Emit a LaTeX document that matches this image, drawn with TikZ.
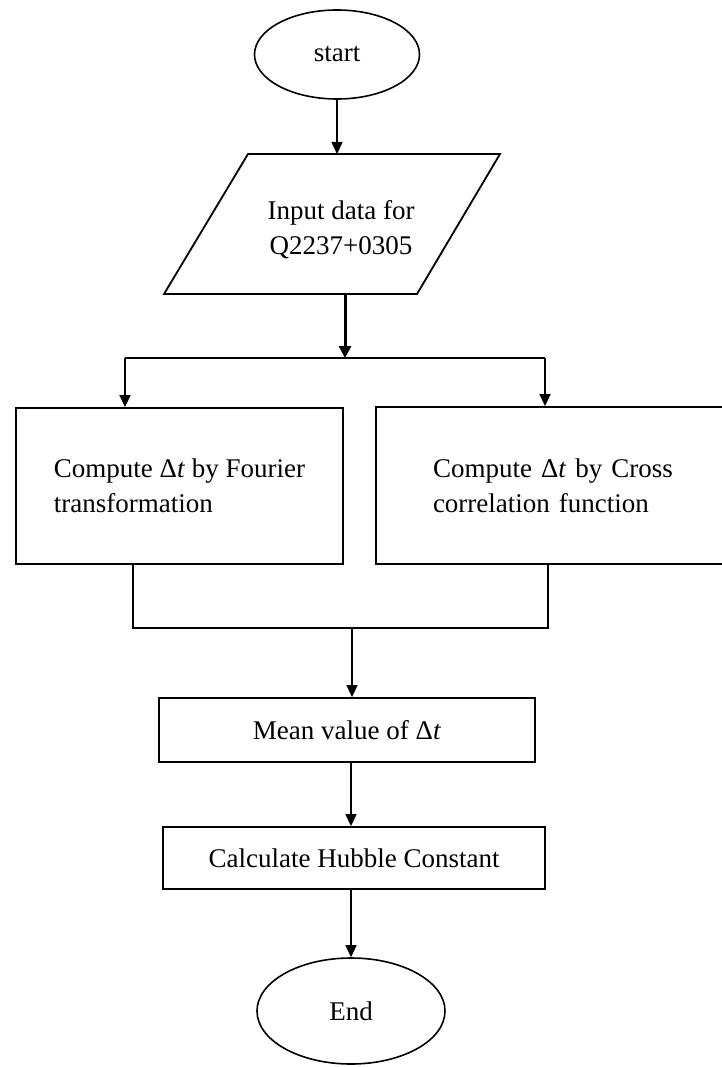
\documentclass[tikz,border=0pt]{standalone}
\usepackage{fontspec}
\setmainfont{Liberation Serif}
\usetikzlibrary{shapes.geometric,arrows.meta}
\begin{document}
\begin{tikzpicture}[x=1pt,y=-1pt,
  every node/.style={font=\fontsize{27}{35}\selectfont},
  term/.style={draw,ellipse,line width=1.6pt,inner sep=0pt},
  procbox/.style={draw,rectangle,line width=1.8pt,inner sep=0pt,align=left},
  conn/.style={line width=1.6pt,-{Triangle[length=12pt,width=11pt]}},
  thickconn/.style={line width=3pt,-{Triangle[length=12pt,width=12pt]}},
  plain/.style={line width=1.6pt}]
\useasboundingbox (0,0) rectangle (722,1067);
\fill[white] (0,0) rectangle (722,1067);
% start
\node[term,minimum width=165pt,minimum height=89pt] (start) at (337,54.5) {start};
% input parallelogram
\coordinate (pTL) at (248,154);
\coordinate (pTR) at (500,154);
\coordinate (pBR) at (417,294);
\coordinate (pBL) at (164,294);
\draw[line width=1.8pt,line join=miter] (pTL) -- (pTR) -- (pBR) -- (pBL) -- cycle;
\node[align=center,inner sep=0pt] (input) at (341,230) {Input data for\\Q2237+0305};
\coordinate (inTop) at (337,154);
\coordinate (inBot) at (345,294);
% branch
\coordinate (brMid) at (345,358);
\coordinate (brL) at (125,358);
\coordinate (brR) at (545,358);
% boxes
\node[procbox,minimum width=327pt,minimum height=156pt] (fourier) at (179.5,486)
  {Compute Δ\textit{t} by Fourier\\transformation};
\node[procbox,inner xsep=57pt,text width=286pt,minimum height=157pt] (cross) at (576,485.5)
  {Compute Δ\textit{t} by Cross\\correlation function};
% merge
\coordinate (mL) at (133,628);
\coordinate (mR) at (548,628);
\coordinate (mMid) at (352,628);
\node[procbox,align=center,minimum width=376pt,minimum height=64pt] (mean) at (347,730)
  {Mean value of Δ\textit{t}};
\node[procbox,align=center,minimum width=382pt,minimum height=62pt] (calc) at (354,858)
  {Calculate Hubble Constant};
\node[term,minimum width=188pt,minimum height=106pt] (end) at (351,1011) {End};
% connectors
\draw[conn] (start.south) -- (inTop);
\draw[thickconn] (inBot) -- (brMid);
\draw[plain] (brL) -- (brR);
\draw[conn] (brL) -- (brL |- fourier.north);
\draw[conn] (brR) -- (brR |- cross.north);
\draw[plain] (mL |- fourier.south) -- (mL) -- (mR) -- (mR |- cross.south);
\draw[conn] (mMid) -- (mMid |- mean.north);
\draw[conn] (mean.south -| 351,0) -- (351,0 |- calc.north);
\draw[conn] (calc.south -| 351,0) -- (end.north);
\end{tikzpicture}
\end{document}
